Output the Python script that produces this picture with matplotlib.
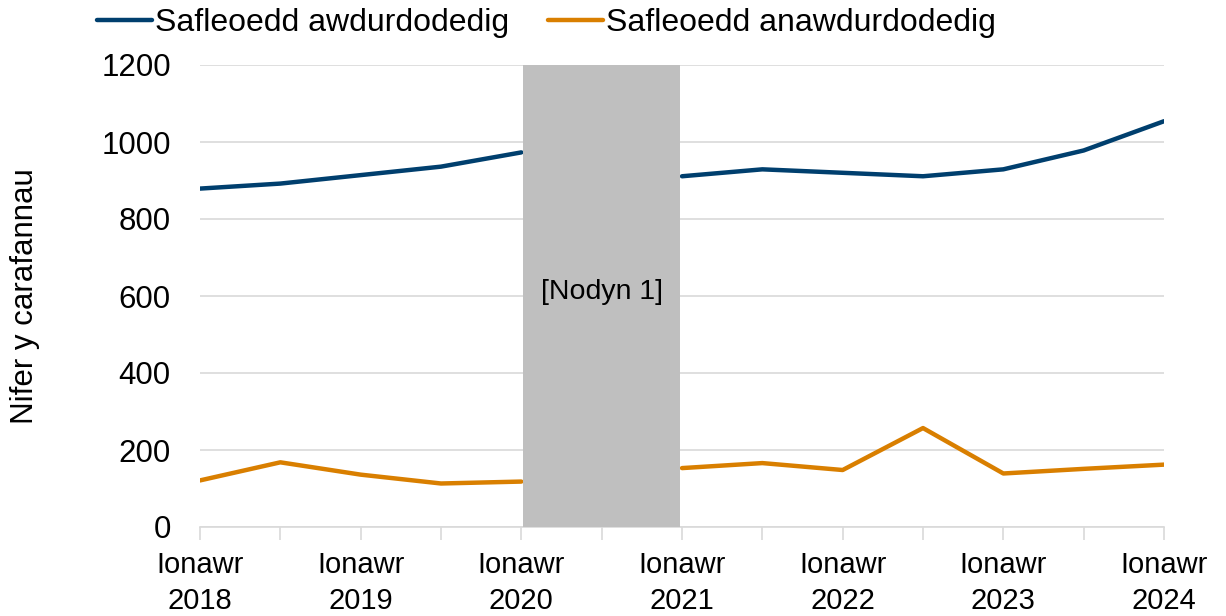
import numpy as np
import matplotlib
matplotlib.use("Agg")
import matplotlib.pyplot as plt

plt.rcParams['font.family'] = ['Liberation Sans', 'DejaVu Sans']

# half-year periods from Jan 2018 to Jan 2024 (July 2020 not shown)
periods = ["Ion 2018", "Gor 2018", "Ion 2019", "Gor 2019", "Ion 2020", "Gor 2020",
           "Ion 2021", "Gor 2021", "Ion 2022", "Gor 2022", "Ion 2023", "Gor 2023", "Ion 2024"]
authorised = [879, 892, 914, 936, 973, np.nan, 911, 929, 920, 911, 929, 978, 1054]
unauthorised = [121, 168, 136, 113, 118, np.nan, 153, 166, 148, 257, 139, 151, 162]
tick_labels = ["Ionawr\n2018", "Ionawr\n2019", "Ionawr\n2020", "Ionawr\n2021",
               "Ionawr\n2022", "Ionawr\n2023", "Ionawr\n2024"]
series_names = ["Safleoedd awdurdodedig", "Safleoedd anawdurdodedig"]
note_text = "[Nodyn 1]"

x = np.arange(len(periods))

fig = plt.figure(figsize=(12.26, 6.16), dpi=100)
ax = fig.add_axes([200/1226, 1-527/616, (1164-200)/1226, (527-65)/616])

blue = "#003F6E"
orange = "#D97F00"
ax.plot(x, authorised, color=blue, lw=3.2, label=series_names[0], solid_capstyle='round', zorder=3)
ax.plot(x, unauthorised, color=orange, lw=3.2, label=series_names[1], solid_capstyle='round', zorder=3)

# shaded period (note 1)
ax.axvspan(4 + 0.025, 6 - 0.025, color="#BFBFBF", zorder=4, lw=0)
ax.text(5, 610, note_text, ha='center', va='center', fontsize=20.5, zorder=5)

ax.set_xlim(0, 12)
ax.set_ylim(0, 1200)
ax.set_yticks(np.arange(0, 1201, 200))
ax.set_xticks(np.arange(0, 13, 2))
ax.set_xticklabels(tick_labels, linespacing=1.38)
ax.set_xticks(x, minor=True)
ax.tick_params(axis='x', which='both', length=9, color="#D9D9D9", width=1.2)
ax.tick_params(axis='x', which='major', labelsize=21, pad=8)
ax.tick_params(axis='y', length=0, labelsize=22.5, pad=21)
ax.grid(axis='y', color="#D9D9D9", lw=1.2, zorder=0)
for s in ['left', 'right', 'top']:
    ax.spines[s].set_visible(False)
ax.spines['bottom'].set_color("#D9D9D9")
ax.spines['bottom'].set_linewidth(1.2)
ax.set_ylabel("Nifer y carafannau", fontsize=22.5)
ax.yaxis.set_label_coords(-160/964, 0.5)

ax.legend(loc='center left', bbox_to_anchor=(-103/964, 1 + 42/462), ncol=2, frameon=False,
          fontsize=23, handlelength=1.72, handletextpad=0.1, columnspacing=1.22,
          borderaxespad=0, borderpad=0)

fig.savefig("out.png", dpi=100)
